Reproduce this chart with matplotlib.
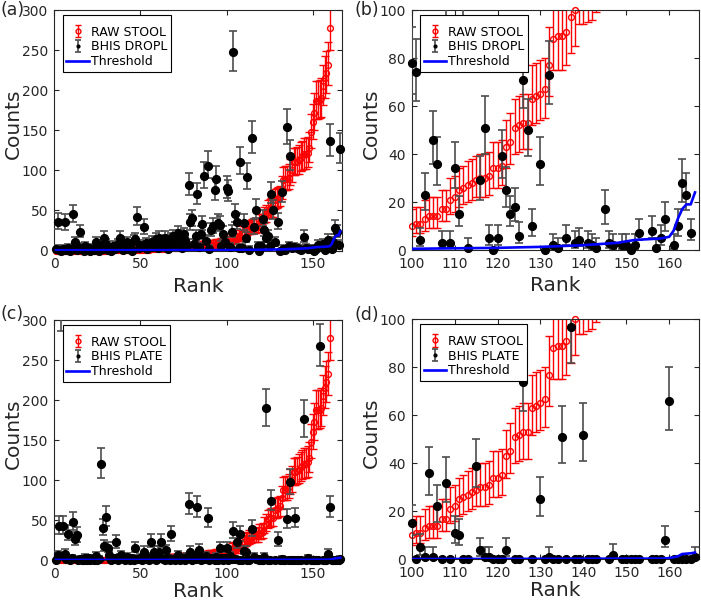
import numpy as np
import matplotlib
matplotlib.use("Agg")
import matplotlib.pyplot as plt

plt.rcParams['font.family'] = ['DejaVu Sans']

# ---------------- data ----------------
# RAW STOOL (sorted counts, ranks 1..160)
red_vals = ([0]*30 + [1]*25 + [2]*10 + [3]*7 + [4]*6 + [5]*6 + [6]*5 + [7]*4 + [8]*3 + [9]*3 +
            [10, 11, 11, 13, 14, 14, 14, 17, 17, 21, 22, 25, 26, 27, 28, 29, 30, 30, 31, 34,
             34, 35, 43, 45, 51, 52, 53, 53, 63, 64, 65, 67, 77, 88, 89, 89, 91, 97, 100] +
            [110, 110, 111, 113, 116, 118, 120, 120, 122, 128, 148, 160, 172, 187, 187, 188,
             190, 205, 215, 222, 232, 278])
red_err_lo = ([0]*30 + [1]*25 + [1.5]*10 + [2]*7 + [2.5]*6 + [3]*6 + [3]*5 + [3]*4 + [3.5]*3 + [3.5]*3 +
              [4, 4, 4, 5, 5, 5, 5, 5, 5, 6, 6, 7, 7, 7, 7, 7, 8, 8, 8, 8,
               8, 8, 9, 9, 11, 11, 11, 11, 11, 11, 11, 12, 13, 13, 14, 14, 14, 15, 15] +
              [16, 16, 16, 17, 17, 17, 18, 18, 18, 18, 20, 21, 22, 23, 23, 23, 23, 24, 25, 25, 26, 28])
red_err_hi = ([2]*30 + [3]*25 + [4]*10 + [4.5]*7 + [5]*6 + [5]*6 + [5.5]*5 + [6]*4 + [6]*3 + [6.5]*3 +
              [7, 7, 7, 8, 8, 8, 8, 8, 8, 9, 9, 9, 9, 10, 10, 10, 10, 10, 10, 11,
               11, 11, 11, 12, 12, 12, 12, 12, 14, 14, 14, 13, 16, 16, 16, 16, 17, 17, 17] +
              [18, 18, 18, 19, 19, 19, 20, 20, 20, 20, 22, 23, 24, 25, 25, 25, 25, 26, 27, 27, 28, 30])

nan = float('nan')

# BHIS DROPL (ranks 1..166)
dropl_vals = [2, 36, 1, 0, 2, 35, 1, 3, 0, 2,
              45, 10, 1, 4, 23, 2, 0, 5, 1, 3,
              0, 2, 1, 10, 3, 0, 5, 2, 16, 8,
              1, 3, 0, 6, 2, 4, 8, 16, 3, 1,
              5, 10, 2, 4, 0, 12, 14, 42, 3, 7,
              5, 29, 9, 2, 8, 4, 11, 6, 14, 3,
              16, 9, 5, 16, 12, 2, 8, 14, 18, 5,
              10, 22, 17, 3, 20, 13, 5, 82, 35, 40,
              8, 18, 70, 4, 21, 33, 93, 12, 106, 2,
              25, 30, 75, 89, 34, 32, 6, 21, 10, 78,
              74, 4, 23, 248, 46, 36, 3, 111, 3, 34,
              15, 92, 1, nan, 140, 29, 51, 5, 0, 5,
              39, 25, 15, 18, 6, 71, 50, 10, nan, 36,
              0, 73, 2, 1, 154, 5, 118, 3, 4, nan,
              3, 2, 1, nan, 17, 3, 2, nan, 2, 2,
              0, 2, 7, nan, nan, 8, 1, 5, 13, 137,
              2, 10, 28, 23, 7, 127]
dropl_err_lo = [1.5, 9, 1, 0, 1.5, 9, 1, 2, 0, 1.5,
                10, 4, 1, 2.5, 6.5, 1.5, 0, 3, 1, 2,
                0, 1.5, 1, 4, 2, 0, 3, 1.5, 5.5, 3,
                1, 2, 0, 3, 1.5, 2.5, 3, 5.5, 2, 1,
                3, 4, 1.5, 2.5, 0, 4.5, 5, 10, 2, 3,
                3, 8, 3.5, 1.5, 3, 2.5, 4, 3, 5, 2,
                5.5, 3.5, 3, 5.5, 4.5, 1.5, 3, 5, 6, 3,
                4, 6.5, 6, 2, 6, 5, 3, 13, 9, 9,
                3, 6, 12, 2.5, 6.5, 8, 15, 4.5, 16, 1.5,
                7, 8, 12, 15, 8, 8, 3, 6.5, 4, 13,
                12, 2.5, 6.5, 24, 10, 9, 2, 16, 2, 8,
                5, 15, 1, 0, 19, 8, 11, 3, 0, 3,
                9, 7, 5, 6, 3, 12, 11, 4, 0, 9,
                0, 12, 1.5, 1, 21, 3, 18, 2, 2.5, 0,
                2, 1.5, 1, 0, 6, 2, 1.5, 0, 1.5, 1.5,
                0, 1.5, 3, 0, 0, 3, 1, 3, 5, 19,
                1.5, 4, 8, 6.5, 3, 18]
dropl_err_hi = [4.5, 11, 4, 0, 4.5, 11, 4, 5, 0, 4.5,
                12, 7, 4, 5, 9, 4.5, 0, 5.5, 4, 5,
                0, 4.5, 4, 7, 5, 0, 5.5, 4.5, 8, 6,
                4, 5, 0, 5.5, 4.5, 5, 6, 8, 5, 4,
                5.5, 7, 4.5, 5, 0, 7, 7.5, 12, 5, 6,
                5.5, 10, 6.5, 4.5, 6, 5, 7, 5.5, 7.5, 5,
                8, 6.5, 5.5, 8, 7, 4.5, 6, 7.5, 8, 5.5,
                7, 9, 8, 5, 8.5, 7, 5.5, 15, 11, 11,
                6, 8, 14, 5, 9, 10.5, 17, 7, 18, 4.5,
                9.5, 10, 14, 17, 11, 10.5, 5.5, 9, 7, 15,
                14, 5, 9, 26, 12, 11, 5, 18, 5, 11,
                7.5, 17, 4, 0, 21, 10, 13, 5.5, 0, 5.5,
                11, 9.5, 7.5, 8, 5.5, 14, 13, 7, 0, 11,
                0, 14, 4.5, 4, 23, 5.5, 20, 5, 5, 0,
                5, 4.5, 4, 0, 8, 5, 4.5, 0, 4.5, 4.5,
                0, 4.5, 6, 0, 0, 6, 4, 5.5, 7, 21,
                4.5, 7, 10, 9, 6, 20]

# BHIS PLATE (ranks 1..166)
plate_vals = [0, 6, 43, 315, 43, 8, 1, 33, 0, 2,
              48, 26, 31, 0, 1, 0, 0, 3, 0, 2,
              0, 1, 0, 5, 0, 1, 120, 40, 17, 54,
              15, 6, 0, 1, 2, 22, 0, 3, 6, 2,
              0, 4, 1, 0, 2, 0, 15, 1, 1, 3,
              0, 10, 1, 4, 0, 23, 2, 10, 0, 3,
              10, 23, 1, 0, 12, 2, 0, 32, 1, 0,
              2, 6, 0, 3, 1, 0, 4, 70, 10, 0,
              5, 1, 66, 13, 0, 2, 1, 5, 52, 0,
              2, 1, 0, 4, 0, 15, 2, 0, 2, 15,
              0, 5, 1, 36, 1, 22, 0, 32, 0, 11,
              10, 0, 0, nan, 39, 4, 1, 1, 0, 0,
              0, 4, 190, 0, 0, 74, nan, 0, nan, 25,
              0, 1, 0, 0, 51, 0, 97, 0, 0, 52,
              0, 0, 0, nan, 176, 0, 2, nan, 0, 0,
              0, 0, 0, 268, nan, 0, 0, 0, 8, 66,
              0, 0, 0, 0, 0, 1]
plate_err_lo = [0, 3, 10, 29, 10, 3, 1, 8, 0, 1.5,
                10, 7, 8, 0, 1, 0, 0, 2, 0, 1.5,
                0, 1, 0, 3, 0, 1, 18, 9, 6, 11,
                5, 3, 0, 1, 1.5, 6.5, 0, 2, 3, 1.5,
                0, 2.5, 1, 0, 1.5, 0, 5, 1, 1, 2,
                0, 4, 1, 2.5, 0, 6.5, 1.5, 4, 0, 2,
                4, 6.5, 1, 0, 4.5, 1.5, 0, 8, 1, 0,
                1.5, 3, 0, 2, 1, 0, 2.5, 12, 4, 0,
                3, 1, 12, 5, 0, 1.5, 1, 3, 11, 0,
                1.5, 1, 0, 2.5, 0, 5, 1.5, 0, 1.5, 5,
                0, 3, 1, 9, 1, 6.5, 0, 8, 0, 4,
                4, 0, 0, 0, 9, 2.5, 1, 1, 0, 0,
                0, 2.5, 22, 0, 0, 12, 0, 0, 0, 7,
                0, 1, 0, 0, 11, 0, 15, 0, 0, 11,
                0, 0, 0, 0, 22, 0, 1.5, 0, 0, 0,
                0, 0, 0, 25, 0, 0, 0, 0, 3, 12,
                0, 0, 0, 0, 0, 1]
plate_err_hi = [0, 5.5, 12, 31, 12, 6, 4, 10.5, 0, 4.5,
                12, 9.5, 10.5, 0, 4, 0, 0, 5, 0, 4.5,
                0, 4, 0, 5.5, 0, 4, 20, 11, 8, 13,
                7.5, 5.5, 0, 4, 4.5, 9, 0, 5, 5.5, 4.5,
                0, 5, 4, 0, 4.5, 0, 7.5, 4, 4, 5,
                0, 7, 4, 5, 0, 9, 4.5, 7, 0, 5,
                7, 9, 4, 0, 7, 4.5, 0, 10.5, 4, 0,
                4.5, 5.5, 0, 5, 4, 0, 5, 14, 7, 0,
                5.5, 4, 14, 7, 0, 4.5, 4, 5.5, 13, 0,
                4.5, 4, 0, 5, 0, 7.5, 4.5, 0, 4.5, 7.5,
                0, 5.5, 4, 11, 4, 9, 0, 10.5, 0, 7,
                7, 0, 0, 0, 11, 5, 4, 4, 0, 0,
                0, 5, 24, 0, 0, 14, 0, 0, 0, 9.5,
                0, 4, 0, 0, 13, 0, 17, 0, 0, 13,
                0, 0, 0, 0, 24, 0, 4.5, 0, 0, 0,
                0, 0, 0, 27, 0, 0, 0, 0, 6, 14,
                0, 0, 0, 0, 0, 4]

# Threshold curves (rank, counts)
thr_dropl_rank = [1, 60, 100, 110, 120, 130, 140, 148, 152, 158, 160, 161, 162, 163, 164, 165, 166]
thr_dropl_vals = [0.3, 0.4, 0.5, 0.7, 0.9, 1.3, 2.0, 3.0, 4.2, 4.8, 5.5, 8.0, 13.0, 17.0, 19.0, 19.0, 24.0]
thr_plate_rank = [1, 100, 158, 160, 162, 163, 165, 166]
thr_plate_vals = [0.1, 0.1, 0.3, 0.5, 1.2, 2.2, 2.5, 2.8]

panel_letters = ['(a)', '(b)', '(c)', '(d)']
legend_labels = ['RAW STOOL', 'BHIS DROPL', 'BHIS PLATE', 'Threshold']
xlabel_text = 'Rank'
ylabel_text = 'Counts'

# ---------------- drawing ----------------
W, H = 701, 601
fig = plt.figure(figsize=(W / 100, H / 100), dpi=100)

def rect(l, t, r, b):
    return [l / W, 1 - b / H, (r - l) / W, (b - t) / H]

TXT = '#262626'
RED = '#ff0000'
BAR = '#4d4d4d'
BLUE = '#0000ff'


def draw_panel(ax, bvals, blo, bhi, trank, tvals, blabel, xlim, ylim, xticks, yticks):
    red = np.asarray(red_vals, float)
    rr = np.arange(1, len(red) + 1)
    ax.errorbar(rr, red, yerr=[red_err_lo, red_err_hi], fmt='none', ecolor=RED,
                elinewidth=1.0, capsize=2.8, capthick=1.0, zorder=2)
    m = (rr >= xlim[0]) & (rr <= xlim[1]) & (red >= ylim[0]) & (red <= ylim[1])
    ax.plot(rr[m], red[m], 'o', ms=4.2, mfc='none', mec=RED, mew=1.0,
            clip_on=False, zorder=2.5)

    b = np.asarray(bvals, float)
    br = np.arange(1, len(b) + 1)
    ax.errorbar(br, b, yerr=[blo, bhi], fmt='none', ecolor=BAR,
                elinewidth=1.2, capsize=2.8, capthick=1.2, zorder=3)
    mb = np.isfinite(b) & (br >= xlim[0]) & (br <= xlim[1]) & (b >= ylim[0]) & (b <= ylim[1])
    ax.plot(br[mb], b[mb], 'o', ms=5.6, color='k', mec='k', clip_on=False, zorder=4)

    ax.plot(trank, tvals, color=BLUE, lw=1.9, zorder=5)

    # legend proxies
    h1 = ax.errorbar([nan], [nan], yerr=[[1], [1]], fmt='o', ms=3.5, mfc='none', mec=RED,
                     ecolor=RED, color=RED, elinewidth=1.0, capsize=2.5, capthick=1.0)
    h2 = ax.errorbar([nan], [nan], yerr=[[1], [1]], fmt='o', ms=2.0, color='k',
                     ecolor=BAR, elinewidth=1.2, capsize=2.5, capthick=1.2)
    h3, = ax.plot([nan], [nan], color=BLUE, lw=1.9)
    leg = ax.legend([h1, h2, h3], [legend_labels[0], blabel, legend_labels[3]],
                    loc='upper left', bbox_to_anchor=(0.029, 0.979), borderaxespad=0,
                    fontsize=9, frameon=True, fancybox=False, framealpha=1,
                    edgecolor='k', handlelength=1.8, handletextpad=0.15,
                    labelspacing=0.14, borderpad=0.3,
                    title=' ', title_fontsize=3.5)
    leg.get_frame().set_linewidth(0.8)
    leg.set_zorder(10)

    ax.set_xlim(*xlim)
    ax.set_ylim(*ylim)
    ax.set_xticks(xticks)
    ax.set_yticks(yticks)
    ax.tick_params(direction='in', length=3.5, width=0.8, colors=TXT, labelsize=10,
                   top=True, right=True)
    ax.tick_params(axis='x', pad=5)
    ax.tick_params(axis='y', pad=4.5)
    for s in ax.spines.values():
        s.set_color(TXT)
        s.set_linewidth(0.8)
    ax.set_xlabel(xlabel_text, fontsize=14.5, color=TXT)
    ax.set_ylabel(ylabel_text, fontsize=14.5, color=TXT)


boxes = [(54.3, 10, 342, 250.5), (411.7, 10, 699.3, 250),
         (54.3, 320, 342, 560), (411.7, 319.3, 699.3, 559.3)]
axa, axb, axc, axd = [fig.add_axes(rect(*bx)) for bx in boxes]

draw_panel(axa, dropl_vals, dropl_err_lo, dropl_err_hi, thr_dropl_rank, thr_dropl_vals,
           legend_labels[1], (0, 167), (0, 300), [0, 50, 100, 150], [0, 50, 100, 150, 200, 250, 300])
draw_panel(axb, dropl_vals, dropl_err_lo, dropl_err_hi, thr_dropl_rank, thr_dropl_vals,
           legend_labels[1], (100, 167), (0, 100), [100, 110, 120, 130, 140, 150, 160], [0, 20, 40, 60, 80, 100])
draw_panel(axc, plate_vals, plate_err_lo, plate_err_hi, thr_plate_rank, thr_plate_vals,
           legend_labels[2], (0, 167), (0, 300), [0, 50, 100, 150], [0, 50, 100, 150, 200, 250, 300])
draw_panel(axd, plate_vals, plate_err_lo, plate_err_hi, thr_plate_rank, thr_plate_vals,
           legend_labels[2], (100, 167), (0, 100), [100, 110, 120, 130, 140, 150, 160], [0, 20, 40, 60, 80, 100])

# label placement (pixel based)
for i, (ax, (l, t, r, b)) in enumerate(zip([axa, axb, axc, axd], boxes)):
    w, h = r - l, b - t
    ax.yaxis.label.set_va('center')
    ax.yaxis.set_label_coords(-40.8 / w, (b - (t + 113.7)) / h)
    ax.xaxis.label.set_va('baseline')
    ax.xaxis.set_label_coords(0.5, (-41.0 if i < 2 else -37.0) / h)

fig.text(0 / W, 1 - 1 / H, panel_letters[0], fontsize=12.5, color=TXT, ha='left', va='top')
fig.text(355 / W, 1 - 1 / H, panel_letters[1], fontsize=12.5, color=TXT, ha='left', va='top')
fig.text(0 / W, 1 - 305 / H, panel_letters[2], fontsize=12.5, color=TXT, ha='left', va='top')
fig.text(355 / W, 1 - 306 / H, panel_letters[3], fontsize=12.5, color=TXT, ha='left', va='top')

fig.savefig('out.png', dpi=100)
